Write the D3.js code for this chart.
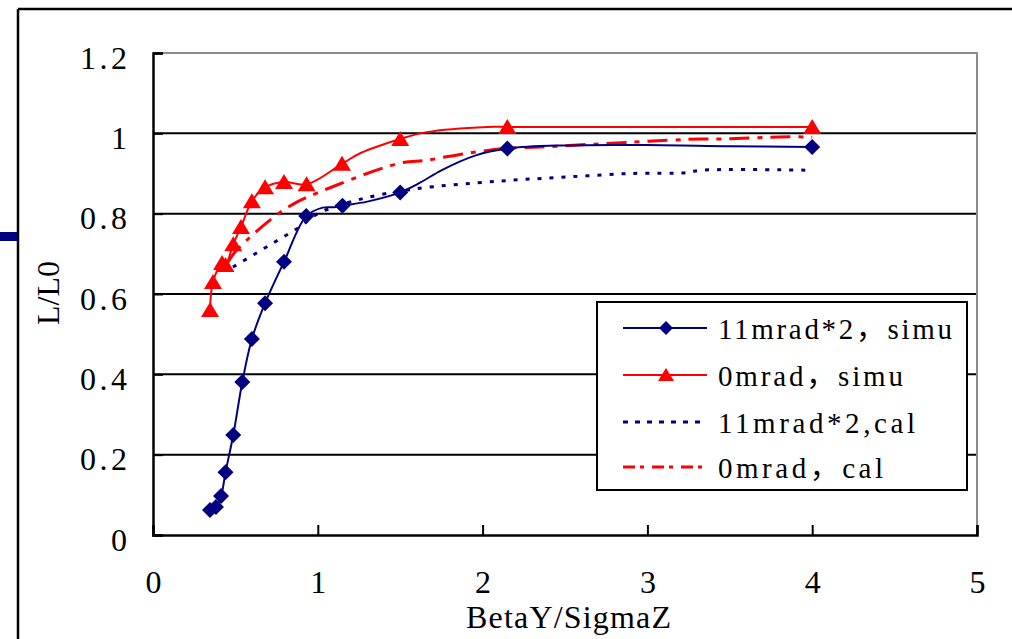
<!DOCTYPE html>
<html>
<head>
<meta charset="utf-8">
<script src="https://cdn.jsdelivr.net/npm/d3@7/dist/d3.min.js"></script>
<style>
  body { margin: 0; background: #fff; }
  text { font-family: "Liberation Serif", "Noto Sans CJK SC", serif; fill: #000; }
</style>
</head>
<body>
<script>
"use strict";
// ---- data ----
var xTicks = [0, 1, 2, 3, 4, 5];
var yTicks = [0, 0.2, 0.4, 0.6, 0.8, 1.0, 1.2];
var yTickLabels = ["0", "0.2", "0.4", "0.6", "0.8", "1", "1.2"];

// 11mrad*2, simu : markers and the smoothed line through them
var tiltSimuX = [0.346, 0.382, 0.413, 0.44, 0.487, 0.542, 0.6, 0.68, 0.795, 0.93, 1.15, 1.5, 2.15, 4.0];
var tiltSimuY = [0.062, 0.070, 0.097, 0.156, 0.249, 0.381, 0.488, 0.577, 0.68, 0.794, 0.82, 0.853, 0.962, 0.966];
var tiltSimuLineX = [0.346, 0.382, 0.413, 0.44, 0.487, 0.542, 0.6, 0.68, 0.795, 0.93, 1.03, 1.1, 1.15, 1.3, 1.5, 1.62, 1.75, 1.95, 2.15, 2.5, 3.0, 3.5, 4.0];
var tiltSimuLineY = [0.062, 0.070, 0.097, 0.156, 0.249, 0.381, 0.488, 0.577, 0.68, 0.794, 0.815, 0.816, 0.82, 0.83, 0.853, 0.877, 0.908, 0.944, 0.962, 0.970, 0.971, 0.968, 0.966];

// 0mrad, simu
var flatSimuX = [0.346, 0.364, 0.419, 0.44, 0.487, 0.534, 0.6, 0.68, 0.795, 0.932, 1.147, 1.5, 2.15, 4.0];
var flatSimuY = [0.56, 0.63, 0.677, 0.672, 0.724, 0.767, 0.831, 0.866, 0.879, 0.873, 0.924, 0.986, 1.016, 1.016];
var flatSimuLineX = [0.346, 0.364, 0.419, 0.44, 0.487, 0.534, 0.6, 0.68, 0.795, 0.932, 1.147, 1.26, 1.5, 1.66, 2.03, 2.15, 3.0, 4.0];
var flatSimuLineY = [0.56, 0.63, 0.677, 0.672, 0.724, 0.767, 0.831, 0.866, 0.879, 0.873, 0.924, 0.951, 0.986, 1.003, 1.016, 1.016, 1.016, 1.016];

// 11mrad*2, cal
var tiltCalX = [0.485, 0.7, 0.89, 1.0, 1.24, 1.58, 2.1, 2.5, 2.9, 3.24, 3.32, 4.0];
var tiltCalY = [0.667, 0.72, 0.767, 0.80, 0.834, 0.861, 0.881, 0.891, 0.90, 0.902, 0.908, 0.908];

// 0mrad, cal
var flatCalX = [0.455, 0.51, 0.81, 1.09, 1.5, 1.66, 1.9, 2.15, 2.35, 2.9, 3.32, 3.45, 3.8, 4.0];
var flatCalY = [0.68, 0.71, 0.814, 0.867, 0.926, 0.933, 0.95, 0.963, 0.966, 0.978, 0.986, 0.986, 0.991, 0.991];

var legendLabels = ["11mrad*2\uff0csimu", "0mrad\uff0csimu", "11mrad*2,cal", "0mrad\uff0ccal"];
var legendWidths = [234, 185, 197, 165];

var NAVY = "#000080", RED = "#ff0000";

function zip(xs, ys) {
    return xs.map(function(x, i) { return [x, ys[i]]; });
}

// ---- layout ----
var W = 1012, H = 639;
var svg = d3.select("body").append("svg")
    .attr("width", W)
    .attr("height", H);

var x = d3.scaleLinear().domain([0, 5]).range([153, 977]);
var y = d3.scaleLinear().domain([0, 1.2]).range([535, 53]);

// outer frame (only left and top edges visible)
svg.append("line").attr("x1", 18).attr("y1", 9).attr("x2", 18).attr("y2", H)
    .attr("stroke", "#000").attr("stroke-width", 2.5);
svg.append("line").attr("x1", 18).attr("y1", 9).attr("x2", W).attr("y2", 9)
    .attr("stroke", "#000").attr("stroke-width", 2.5);
// stray legend key at the left edge
svg.append("rect").attr("x", 0).attr("y", 232).attr("width", 17).attr("height", 9)
    .attr("fill", NAVY);

// gridlines
svg.append("g").selectAll("line")
    .data(yTicks.filter(function(d) { return d > 0 && d < 1.2; }))
    .join("line")
    .attr("x1", x(0)).attr("x2", x(5))
    .attr("y1", function(d) { return y(d); })
    .attr("y2", function(d) { return y(d); })
    .attr("stroke", "#000").attr("stroke-width", 2);

// plot border (top and right in gray)
svg.append("path")
    .attr("d", "M" + x(0) + "," + y(1.2) + "H" + x(5) + "V" + y(0))
    .attr("fill", "none").attr("stroke", "#8c8c8c").attr("stroke-width", 2);

// axes with inward ticks
var yAxis = d3.axisLeft(y).tickValues(yTicks).tickSize(-10).tickFormat(function(d, i) { return yTickLabels[i]; });
var gy = svg.append("g").attr("transform", "translate(" + x(0) + ",0)").call(yAxis);
var xAxis = d3.axisBottom(x).tickValues(xTicks).tickSize(-10).tickFormat(d3.format("d"));
var gx = svg.append("g").attr("transform", "translate(0," + y(0) + ")").call(xAxis);

[gx, gy].forEach(function(g) {
    g.select(".domain").attr("stroke", "#000").attr("stroke-width", 2.5);
    g.selectAll(".tick line").attr("stroke", "#000").attr("stroke-width", 2);
    g.selectAll(".tick text")
        .style("font-family", "'Liberation Serif', serif")
        .style("font-size", "32px")
        .attr("fill", "#000");
});
gy.selectAll(".tick text")
    .attr("x", -26).attr("dy", null).attr("y", 15)
    .each(function(d, i) {
        if (yTickLabels[i].length > 1) {
            d3.select(this).attr("textLength", 47).attr("lengthAdjust", "spacing");
        }
    });
gx.selectAll(".tick text").attr("dy", null).attr("y", 58);

// axis titles
svg.append("text")
    .attr("x", 466).attr("y", 628)
    .attr("textLength", 205).attr("lengthAdjust", "spacing")
    .style("font-size", "32px")
    .text("BetaY/SigmaZ");
svg.append("text")
    .attr("transform", "translate(59,293) rotate(-90)")
    .attr("text-anchor", "middle")
    .style("font-size", "32px")
    .text("L/L0");

// ---- series ----
var line = d3.line()
    .x(function(d) { return x(d[0]); })
    .y(function(d) { return y(d[1]); })
    .curve(d3.curveCatmullRom.alpha(0.5));

function diamond(s) {
    return "M0," + (-s) + "L" + s + ",0L0," + s + "L" + (-s) + ",0Z";
}
function triangle(s) {
    return "M0," + (-s) + "L" + (s + 1) + "," + (s - 1) + "L" + (-s - 1) + "," + (s - 1) + "Z";
}

var plot = svg.append("g");

plot.append("path").datum(zip(tiltCalX, tiltCalY))
    .attr("d", line).attr("fill", "none")
    .attr("stroke", NAVY).attr("stroke-width", 3).attr("stroke-dasharray", "4,8");
plot.append("path").datum(zip(flatCalX, flatCalY))
    .attr("d", line).attr("fill", "none")
    .attr("stroke", RED).attr("stroke-width", 3).attr("stroke-dasharray", "20,8,5,8");

plot.append("path").datum(zip(tiltSimuLineX, tiltSimuLineY))
    .attr("d", line).attr("fill", "none")
    .attr("stroke", NAVY).attr("stroke-width", 2);
plot.append("path").datum(zip(flatSimuLineX, flatSimuLineY))
    .attr("d", line).attr("fill", "none")
    .attr("stroke", RED).attr("stroke-width", 2);

plot.append("g").selectAll("path")
    .data(zip(tiltSimuX, tiltSimuY))
    .join("path")
    .attr("transform", function(d) { return "translate(" + x(d[0]) + "," + y(d[1]) + ")"; })
    .attr("d", diamond(8))
    .attr("fill", NAVY);
plot.append("g").selectAll("path")
    .data(zip(flatSimuX, flatSimuY))
    .join("path")
    .attr("transform", function(d) { return "translate(" + x(d[0]) + "," + y(d[1]) + ")"; })
    .attr("d", triangle(8))
    .attr("fill", RED);

// ---- legend ----
var lg = svg.append("g");
lg.append("rect")
    .attr("x", 597).attr("y", 302).attr("width", 370).attr("height", 188)
    .attr("fill", "#fff").attr("stroke", "#000").attr("stroke-width", 2);

var legendRows = [328, 375, 422, 467];
var legendStroke = [NAVY, RED, NAVY, RED];
var legendDash = [null, null, "5,7", "12,5,4,8"];
var legendWidth = [2, 2, 3, 3];

legendRows.forEach(function(ry, i) {
    lg.append("line")
        .attr("x1", 623).attr("x2", 707).attr("y1", ry).attr("y2", ry)
        .attr("stroke", legendStroke[i]).attr("stroke-width", legendWidth[i])
        .attr("stroke-dasharray", legendDash[i]);
    if (i === 0) {
        lg.append("path").attr("transform", "translate(666," + ry + ")")
            .attr("d", diamond(7)).attr("fill", NAVY);
    }
    if (i === 1) {
        lg.append("path").attr("transform", "translate(666," + ry + ")")
            .attr("d", triangle(7)).attr("fill", RED);
    }
    lg.append("text")
        .attr("x", 718).attr("y", ry + 11)
        .attr("textLength", legendWidths[i]).attr("lengthAdjust", "spacing")
        .style("font-size", "29px")
        .text(legendLabels[i]);
});
</script>
</body>
</html>
